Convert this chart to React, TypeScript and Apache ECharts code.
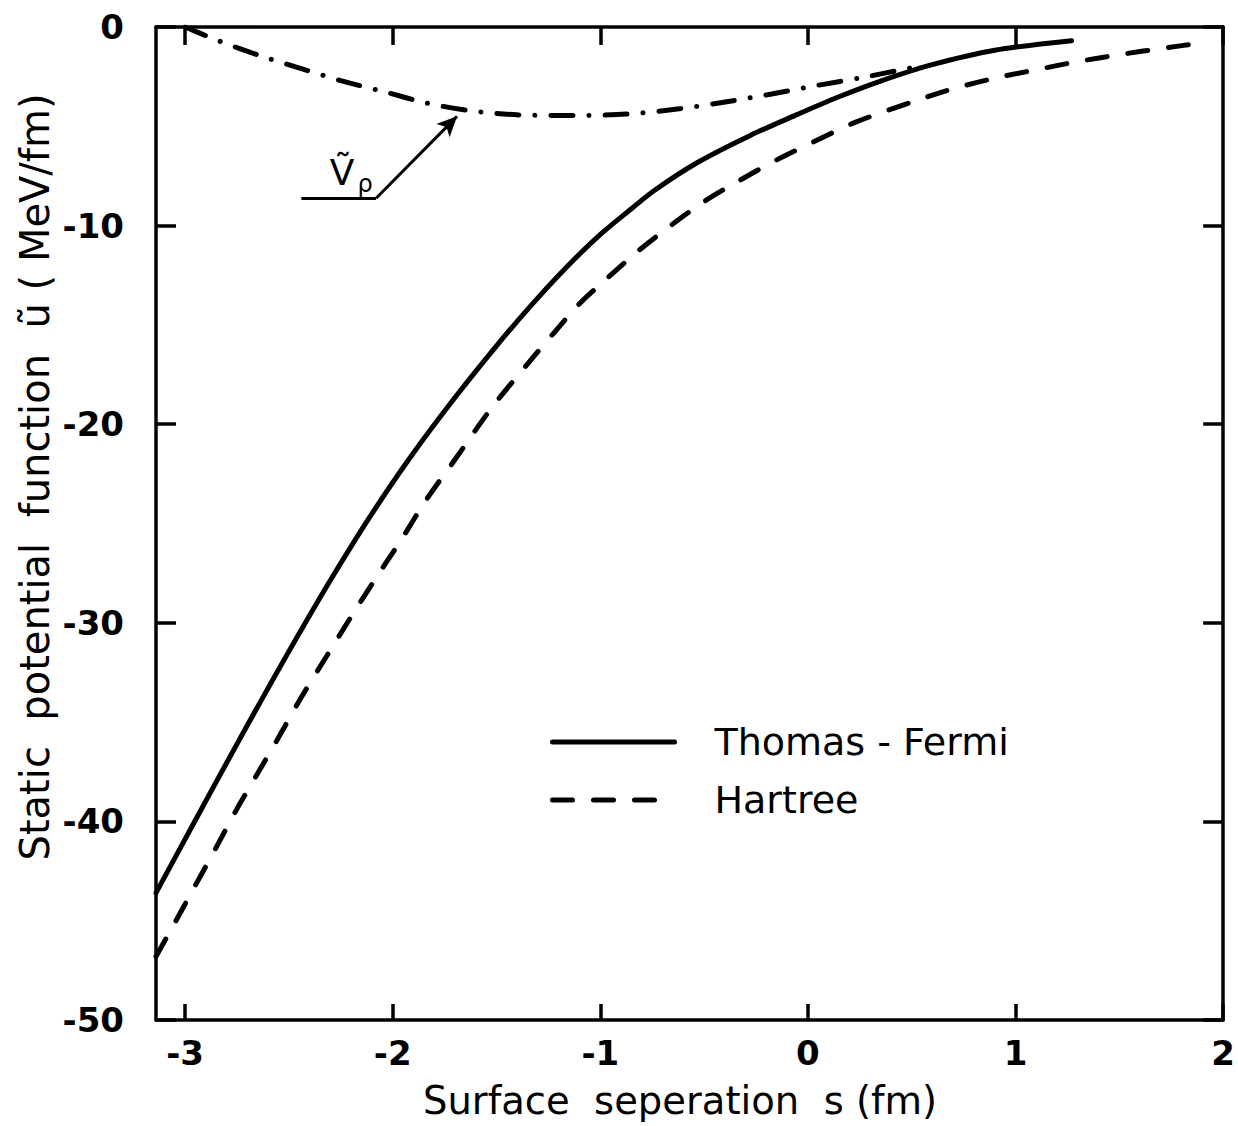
import React, { useEffect, useRef } from "react";
import * as echarts from "echarts";

// Surface separation s (fm)
const tfS = [-3.14, -2.94, -2.82, -2.70, -2.57, -2.45, -2.30, -2.11, -1.92, -1.70, -1.49, -1.33, -1.17, -1.01, -0.85, -0.74, -0.53, -0.28, -0.05, 0.14, 0.35, 0.59, 0.90, 1.27];
// Thomas-Fermi static potential (MeV/fm)
const tfU = [-43.6, -39.74, -37.44, -35.16, -32.73, -30.53, -27.86, -24.67, -21.74, -18.66, -15.93, -13.98, -12.17, -10.54, -9.15, -8.23, -6.81, -5.47, -4.4, -3.55, -2.72, -1.92, -1.17, -0.69];

const hS = [-3.14, -3.05, -2.96, -2.85, -2.75, -2.65, -2.55, -2.44, -2.32, -2.20, -2.07, -1.96, -1.84, -1.71, -1.52, -1.34, -1.22, -1.10, -0.96, -0.82, -0.66, -0.50, -0.33, -0.15, 0.04, 0.23, 0.52, 0.72, 0.92, 1.12, 1.30, 1.52, 1.71, 1.92];
// Hartree
const hU = [-46.8, -45.12, -43.4, -41.31, -39.37, -37.58, -35.78, -33.75, -31.71, -29.69, -27.57, -25.84, -23.83, -21.93, -19.13, -16.84, -15.36, -13.93, -12.59, -11.30, -9.99, -8.79, -7.73, -6.69, -5.72, -4.79, -3.71, -3.05, -2.53, -2.11, -1.74, -1.36, -1.07, -0.77];

// V_rho (dash-dot)
const vS = [-3.0, -2.84, -2.64, -2.46, -2.25, -2.03, -1.84, -1.63, -1.38, -1.12, -0.87, -0.62, -0.36, -0.20, 0.04, 0.27, 0.47, 0.55];
const vU = [0, -0.69, -1.44, -2.03, -2.70, -3.29, -3.82, -4.21, -4.43, -4.46, -4.38, -4.12, -3.71, -3.42, -2.95, -2.53, -2.11, -1.95];

const xTicks = [-3, -2, -1, 0, 1, 2];
const seriesNames = ["Thomas - Fermi", "Hartree", "Vp"];

// callout arrow points (data coords)
const arrowFrom = [-2.44, -8.62];
const arrowKnee = [-2.08, -8.62];
const arrowTip = [-1.69, -4.5];

const zip = (a: number[], b: number[]) => a.map((v, i) => [v, b[i]]);

const FONT = "DejaVu Sans";

export default function App() {
  const ref = useRef<HTMLDivElement>(null);
  useEffect(() => {
    if (!ref.current) return;
    const chart = echarts.init(ref.current, null, { renderer: "svg" });
    const axisLine = { show: true, onZero: false, lineStyle: { color: "#000", width: 3.5 } };
    const tickStyle = { color: "#000", width: 3.5 };
    const option: any = {
      animation: false,
      backgroundColor: "#fff",
      textStyle: { fontFamily: FONT, color: "#000" },
      grid: { left: 156, right: 8, top: 27, bottom: 106, containLabel: false },
      xAxis: [
        {
          type: "value",
          min: -3.14,
          max: 2,
          position: "bottom",
          axisLine,
          axisTick: { show: true, inside: true, length: 16, lineStyle: tickStyle, customValues: xTicks },
          axisLabel: { customValues: xTicks, fontSize: 34, fontWeight: "bold", color: "#000", margin: 16, fontFamily: FONT },
          splitLine: { show: false },
        },
        {
          type: "value",
          min: -3.14,
          max: 2,
          position: "top",
          axisLine,
          axisTick: { show: true, inside: true, length: 18, lineStyle: tickStyle, customValues: xTicks },
          axisLabel: { show: false },
          splitLine: { show: false },
        },
      ],
      yAxis: [
        {
          type: "value",
          min: -50,
          max: 0,
          interval: 10,
          position: "left",
          axisLine,
          axisTick: { show: true, inside: true, length: 20, lineStyle: tickStyle },
          axisLabel: { fontSize: 34, fontWeight: "bold", color: "#000", margin: 32, fontFamily: FONT },
          splitLine: { show: false },
        },
        {
          type: "value",
          min: -50,
          max: 0,
          interval: 10,
          position: "right",
          axisLine,
          axisTick: { show: true, inside: true, length: 20, lineStyle: tickStyle },
          axisLabel: { show: false },
          splitLine: { show: false },
        },
      ],
      legend: {
        data: [seriesNames[0], seriesNames[1]],
        orient: "vertical",
        left: 550,
        top: 722,
        padding: 0,
        itemWidth: 122,
        itemHeight: 20,
        itemGap: 18,
        itemStyle: { color: "rgba(0,0,0,0)", opacity: 0, borderWidth: 0 },
        lineStyle: { width: 5, color: "#000", cap: "round" },
        textStyle: { fontSize: 38, color: "#000", fontFamily: FONT, padding: [0, 0, 0, 35], lineHeight: 40 },
      },
      series: [
        {
          name: seriesNames[0],
          type: "line",
          data: zip(tfS, tfU),
          symbol: "none",
          smooth: 0.3,
          lineStyle: { color: "#000", width: 5, cap: "round" },
          itemStyle: { color: "#000" },
        },
        {
          name: seriesNames[1],
          type: "line",
          data: zip(hS, hU),
          symbol: "none",
          smooth: 0.3,
          lineStyle: { color: "#000", width: 5, type: [20, 21], cap: "round" },
          itemStyle: { color: "#000" },
        },
        {
          name: seriesNames[2],
          type: "line",
          data: zip(vS, vU),
          symbol: "none",
          smooth: 0.3,
          lineStyle: { color: "#000", width: 5, type: [22, 16, 0.1, 16], cap: "round" },
          itemStyle: { color: "#000" },
          markLine: {
            silent: true,
            animation: false,
            label: { show: false },
            lineStyle: { color: "#000", width: 3, type: "solid" },
            symbolSize: [14, 20],
            data: [
              [
                { coord: arrowFrom, symbol: "none" },
                { coord: arrowKnee, symbol: "none" },
              ],
              [
                { coord: arrowKnee, symbol: "none" },
                { coord: arrowTip, symbol: "arrow" },
              ],
            ],
          },
        },
      ],
      graphic: [
        {
          type: "text",
          x: 35,
          y: 477,
          rotation: Math.PI / 2,
          style: {
            text: "Static  potential  function  ũ ( MeV/fm)",
            font: `40px '${FONT}'`,
            fill: "#000",
            align: "center",
            verticalAlign: "middle",
          },
        },
        {
          type: "text",
          x: 680,
          y: 1100,
          style: {
            text: "Surface  seperation  s (fm)",
            font: `38.5px '${FONT}'`,
            fill: "#000",
            align: "center",
            verticalAlign: "middle",
          },
        },
        {
          type: "text",
          x: 342,
          y: 172,
          style: {
            text: "Ṽ",
            font: `36px '${FONT}'`,
            fill: "#000",
            align: "center",
            verticalAlign: "middle",
          },
        },
        {
          type: "text",
          x: 365,
          y: 184,
          style: {
            text: "ρ",
            font: `24px '${FONT}'`,
            fill: "#000",
            align: "center",
            verticalAlign: "middle",
          },
        },
      ],
    };
    chart.setOption(option);
    return () => chart.dispose();
  }, []);
  return (
    <div
      ref={ref}
      style={{ position: "absolute", left: 0, top: 0, width: 1238, height: 1126, background: "#fff" }}
    />
  );
}
